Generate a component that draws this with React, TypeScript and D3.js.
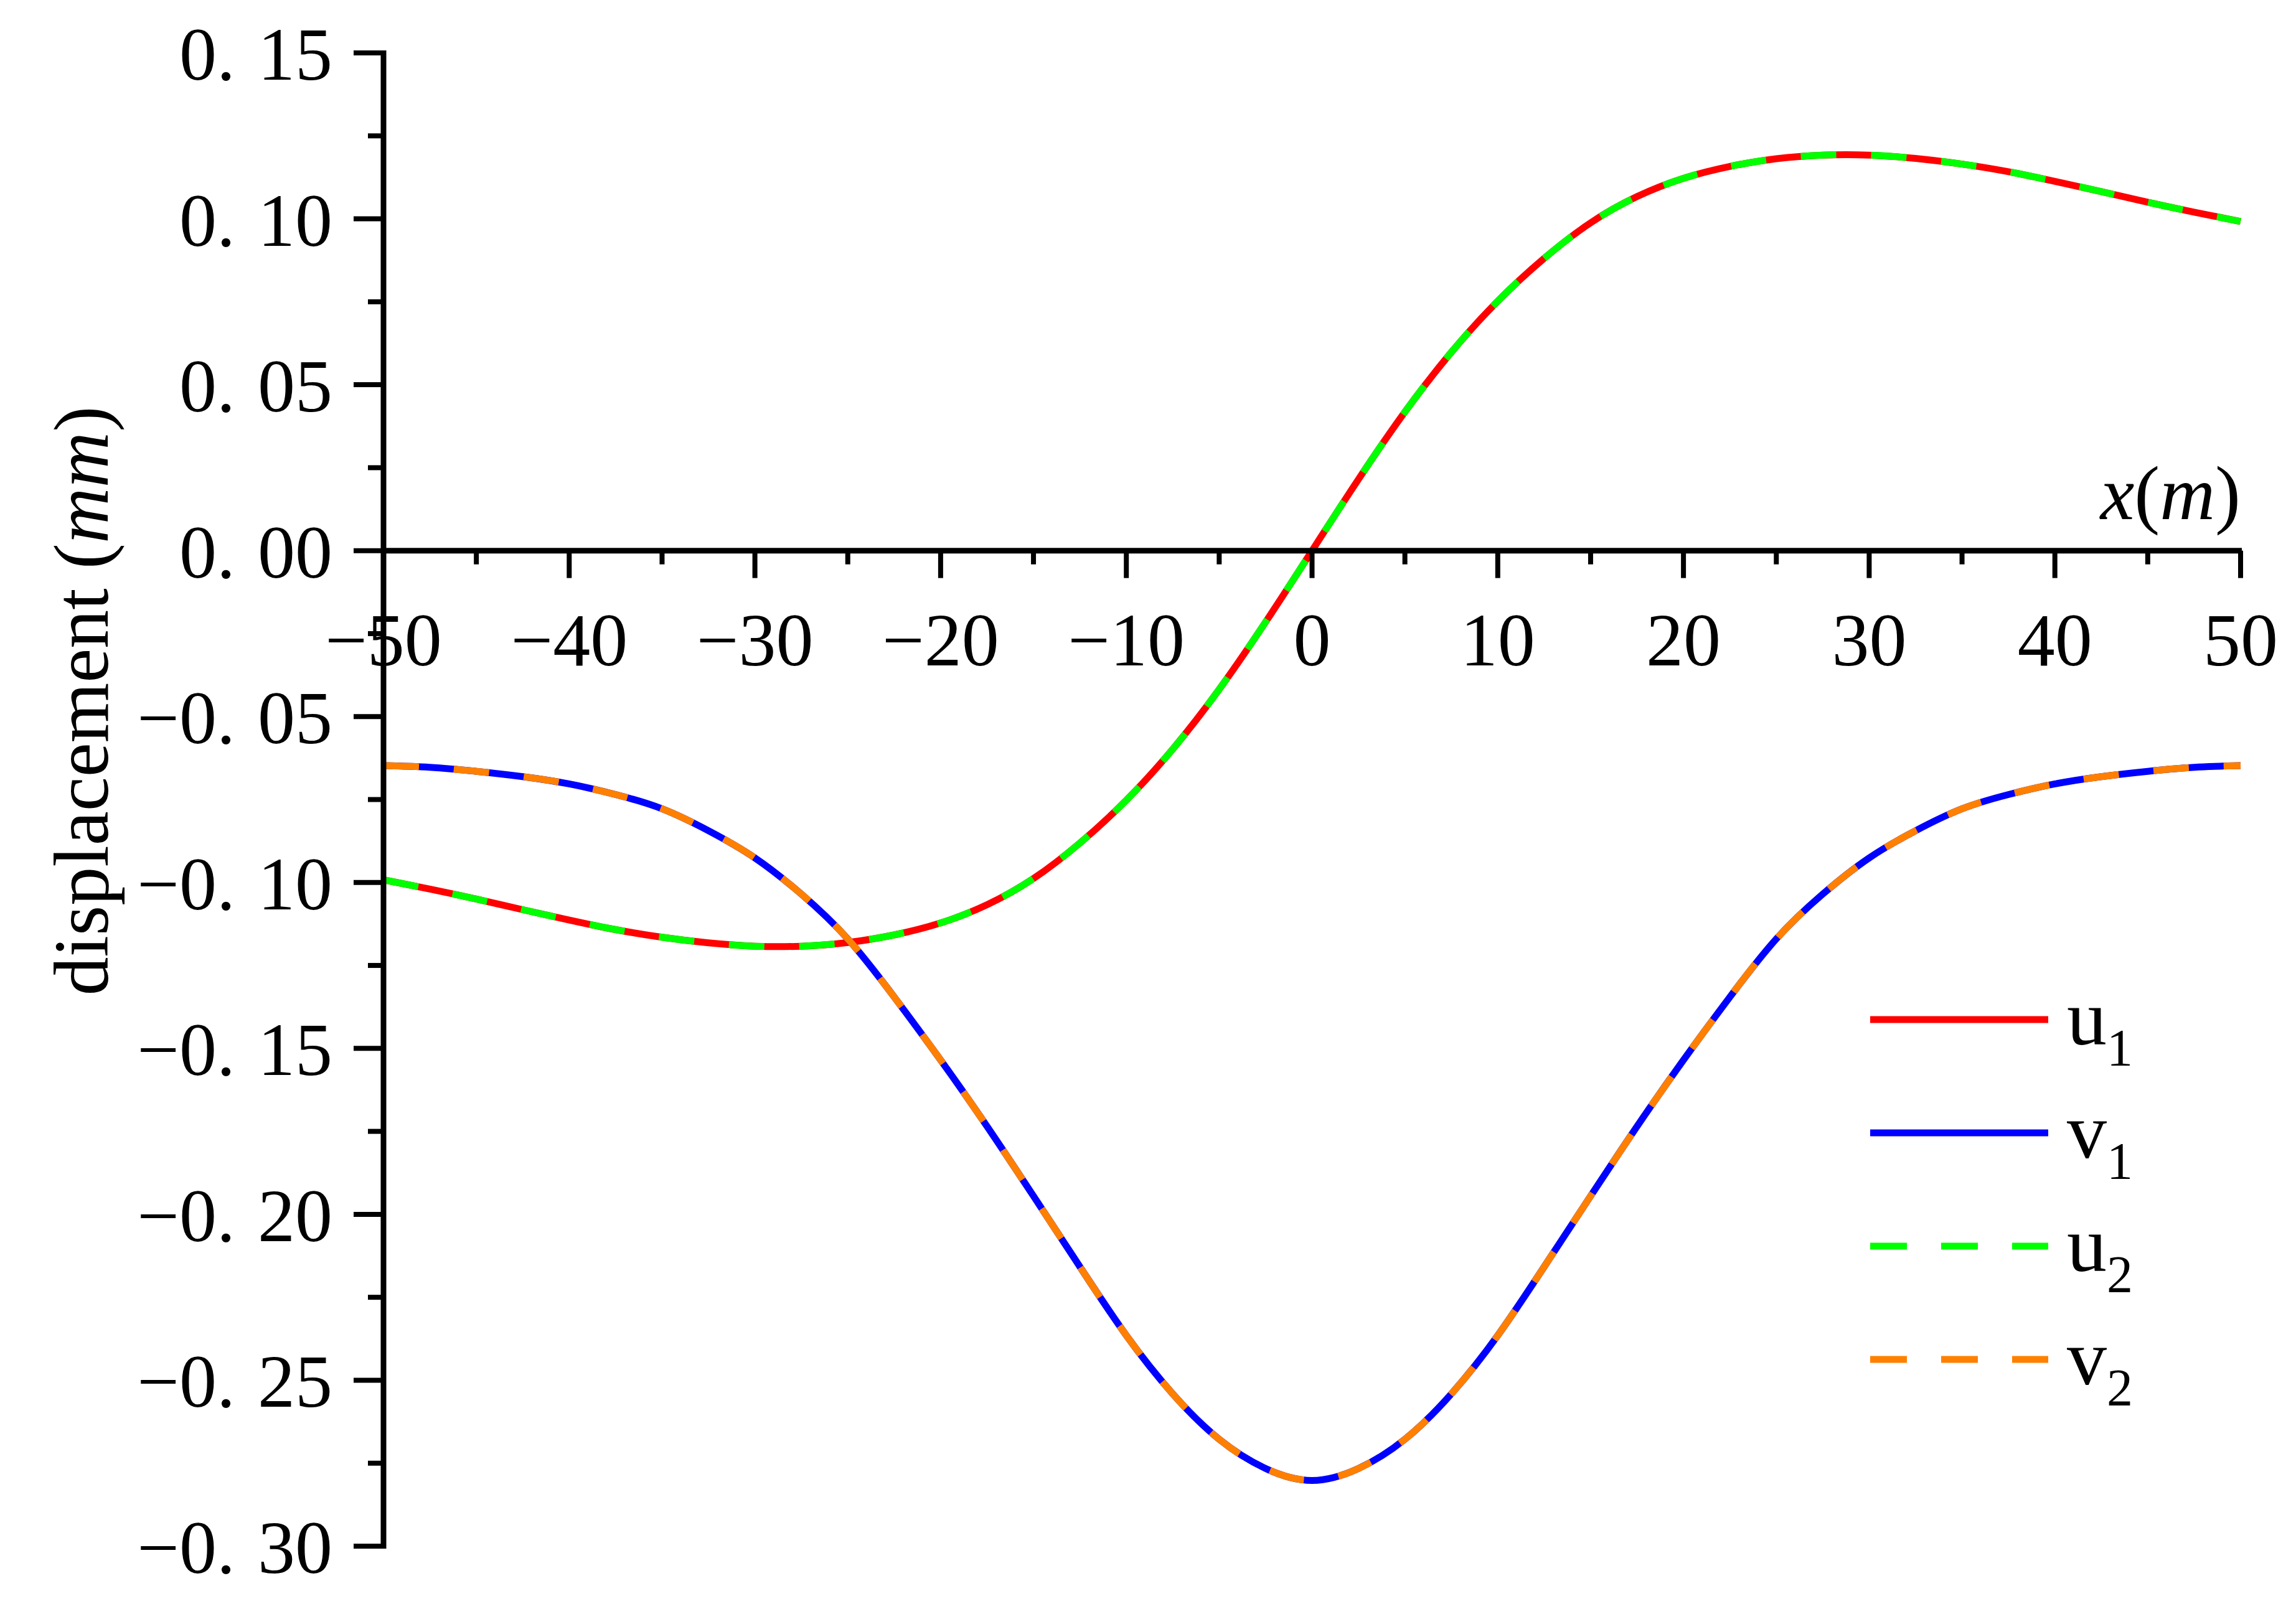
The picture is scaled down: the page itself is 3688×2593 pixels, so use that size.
import React from 'react'
import * as d3 from 'd3'

// positions along the tunnel axis (m)
const xs = [
  -50, -47.5, -45, -42.5, -40, -37.5, -35, -32.5, -30, -27.5, -25, -22.5, -20, -17.5, -15, -12.5, -10, -7.5, -5,
  -2.5, 0, 2.5, 5, 7.5, 10, 12.5, 15, 17.5, 20, 22.5, 25, 27.5, 30, 32.5, 35, 37.5, 40, 42.5, 45, 47.5, 50,
]

// horizontal displacement u (mm)
const uValues = [
  -0.0992, -0.102, -0.105, -0.1082, -0.1113, -0.1142, -0.1165, -0.1182, -0.1192, -0.1192, -0.1181, -0.1158,
  -0.1122, -0.1067, -0.0988, -0.0881, -0.0752, -0.0598, -0.0418, -0.0215, 0, 0.0215, 0.0418, 0.0598, 0.0752,
  0.0881, 0.0988, 0.1067, 0.1122, 0.1158, 0.1181, 0.1192, 0.1192, 0.1182, 0.1165, 0.1142, 0.1113, 0.1082, 0.105,
  0.102, 0.0992,
]

// vertical displacement v (mm)
const vValues = [
  -0.0648, -0.0653, -0.0665, -0.0681, -0.0703, -0.0735, -0.0778, -0.0844, -0.0926, -0.1035, -0.117, -0.1345,
  -0.1535, -0.1735, -0.1945, -0.2158, -0.2365, -0.2541, -0.2678, -0.2766, -0.2802, -0.2766, -0.2678, -0.2541,
  -0.2365, -0.2158, -0.1945, -0.1735, -0.1535, -0.1345, -0.117, -0.1035, -0.0926, -0.0844, -0.0778, -0.0735,
  -0.0703, -0.0681, -0.0665, -0.0653, -0.0648,
]

const xTicks = [-50, -40, -30, -20, -10, 0, 10, 20, 30, 40, 50]
const yTicks = [0.15, 0.1, 0.05, 0, -0.05, -0.1, -0.15, -0.2, -0.25, -0.3]

const series = [
  { key: 'u', sub: '1', values: uValues, color: '#ff0000', dashed: false },
  { key: 'v', sub: '1', values: vValues, color: '#0000ff', dashed: false },
  { key: 'u', sub: '2', values: uValues, color: '#00ff00', dashed: true },
  { key: 'v', sub: '2', values: vValues, color: '#ff8000', dashed: true },
]

const W = 3688
const H = 2593
const font = '"Liberation Serif", "Times New Roman", serif'

export default function App() {
  const x = d3.scaleLinear().domain([-50, 50]).range([616, 3599])
  const y = d3.scaleLinear().domain([-0.3, 0.15]).range([2484, 85])

  const line = d3
    .line<number>()
    .x((_d, i) => x(xs[i]))
    .y((d) => y(d))
    .curve(d3.curveNatural)

  const fmtY = (v: number) => d3.format('.2f')(v).replace('.', '. ')
  const fmtX = d3.format('d')

  const xMinor = d3.range(-45, 50, 10)
  const yMinor = d3.range(-0.275, 0.15, 0.05)
  const y0 = y(0)

  return (
    <svg
      width={W}
      height={H}
      viewBox={`0 0 ${W} ${H}`}
      style={{ position: 'absolute', left: 0, top: 0, background: '#fff' }}
      fontFamily={font}
    >
      <rect width={W} height={H} fill="#fff" />

      {/* curves */}
      {series.map((s, i) => (
        <path
          key={i}
          d={line(s.values) ?? ''}
          fill="none"
          stroke={s.color}
          strokeWidth={11}
          strokeDasharray={s.dashed ? '57 56' : undefined}
        />
      ))}

      {/* y axis */}
      <line x1={x(-50)} x2={x(-50)} y1={y(0.15) - 4} y2={y(-0.3) + 4} stroke="#000" strokeWidth={9} />
      {yTicks.map((t) => (
        <g key={t}>
          <line x1={x(-50) - 48} x2={x(-50)} y1={y(t)} y2={y(t)} stroke="#000" strokeWidth={8} />
          <text x={534} y={y(t) + 43} fontSize={120} textAnchor="end" style={{ wordSpacing: '6px' }}>
            {fmtY(t)}
          </text>
        </g>
      ))}
      {yMinor.map((t) => (
        <line key={t} x1={x(-50) - 25} x2={x(-50)} y1={y(t)} y2={y(t)} stroke="#000" strokeWidth={8} />
      ))}

      {/* x axis through zero */}
      <line x1={x(-50)} x2={x(50) + 2} y1={y0} y2={y0} stroke="#000" strokeWidth={9} />
      {xTicks.map((t) => (
        <g key={t}>
          <line x1={x(t)} x2={x(t)} y1={y0} y2={y0 + 44} stroke="#000" strokeWidth={8} />
          <text x={x(t)} y={1069} fontSize={120} textAnchor="middle">
            {fmtX(t)}
          </text>
        </g>
      ))}
      {xMinor.map((t) => (
        <line key={t} x1={x(t)} x2={x(t)} y1={y0} y2={y0 + 22} stroke="#000" strokeWidth={8} />
      ))}

      {/* axis titles */}
      <text x={x(50)} y={834} fontSize={123} textAnchor="end">
        <tspan fontStyle="italic">x</tspan>(<tspan fontStyle="italic">m</tspan>)
      </text>
      <text transform="translate(173,1126) rotate(-90)" fontSize={124} textAnchor="middle">
        displacement (<tspan fontStyle="italic">mm</tspan>)
      </text>

      {/* legend */}
      {series.map((s, i) => {
        const ly = 1638 + i * 182
        return (
          <g key={i}>
            <line
              x1={3004}
              x2={3290}
              y1={ly}
              y2={ly}
              stroke={s.color}
              strokeWidth={11}
              strokeDasharray={s.dashed ? '59 55' : undefined}
            />
            <text x={3320} y={ly + 40} fontSize={128}>
              {s.key}
              <tspan fontSize={84} dy={34}>
                {s.sub}
              </tspan>
            </text>
          </g>
        )
      })}
    </svg>
  )
}
